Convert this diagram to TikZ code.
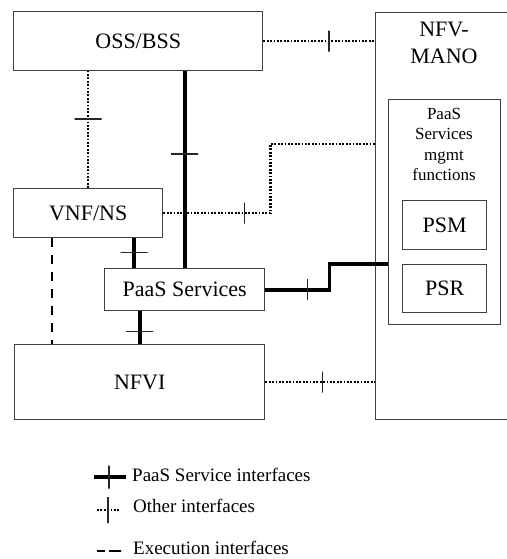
\documentclass[tikz,border=0pt]{standalone}
\usepackage{fontspec}
\setmainfont{Liberation Serif}
\usetikzlibrary{calc}
\begin{document}
\begin{tikzpicture}[x=1pt,y=-1pt,
  box/.style={draw=black!75, line width=1.4pt, rectangle, inner sep=0pt, anchor=north west,
    font=\fontsize{22}{26}\selectfont, align=center},
  thickif/.style={line width=3.6pt, black},
  dotif/.style={line width=2.2pt, black, dash pattern=on 1.8pt off 1.6pt},
  execif/.style={line width=2.8pt, black, dash pattern=on 9pt off 8pt},
  vtick/.style={draw=black!85, line width=1.5pt, solid, inner sep=0pt, minimum width=0pt, minimum height=21pt, rectangle},
  htick/.style={draw=black!85, line width=1.5pt, solid, inner sep=0pt, minimum height=0pt, minimum width=27pt, rectangle},
  legtext/.style={anchor=base west, inner sep=0pt, font=\fontsize{19}{22}\selectfont}
]
\useasboundingbox (0,0) rectangle (506,559);
\fill[white] (0,0) rectangle (506,559);

% boxes
\node[box, minimum width=249pt, minimum height=59pt] (oss) at (13,11) {OSS/BSS};
\node[box, minimum width=138pt, minimum height=407pt] (mano) at (375,12) {};
\node[font=\fontsize{22}{27}\selectfont, align=center, anchor=north, inner sep=0pt] (manot) at (444,22) {NFV-\\MANO};
\node[box, minimum width=112pt, minimum height=225pt] (mgmt) at (388,99) {};
\node[font=\fontsize{17}{20.5}\selectfont, align=center, anchor=north, inner sep=0pt] (mgmtt) at (444,108) {PaaS\\Services\\mgmt\\functions};
\node[box, minimum width=84pt, minimum height=49pt] (psm) at (402,200) {PSM};
\node[box, minimum width=84pt, minimum height=48pt] (psr) at (402,264) {PSR};
\node[box, minimum width=149pt, minimum height=49pt] (vnf) at (13,188) {VNF/NS};
\node[box, minimum width=160pt, minimum height=42pt] (paas) at (104,268) {PaaS Services};
\node[box, minimum width=250pt, minimum height=75pt] (nfvi) at (14,344) {NFVI};

% helper coordinates
\coordinate (vp) at ($(paas.north west)+(30,0)$);
\coordinate (ve) at ($(vnf.south west)+(39,0)$);
\coordinate (vm) at ($(vnf.east)+(107,0)$);
\coordinate (mm) at ($(mano.north west)+(0,132)$);
\coordinate (pm) at ($(paas.east)+(64,0)$);

% connectors
\draw[dotif] (oss.east) -- node[pos=0.59, vtick]{} (oss.east -| mano.west);
\draw[dotif] (vnf.north) -- node[pos=0.59, htick]{} (vnf.north |- oss.south);
\draw[thickif] (paas.north) -- node[pos=0.58, htick]{} (paas.north |- oss.south);
\draw[dotif] (vnf.east) -- node[pos=0.757, vtick]{} (vm) |- (mm);
\draw[thickif] (vp) -- node[pos=0.52, htick]{} (vp |- vnf.south);
\draw[execif] (ve) -- (ve |- nfvi.north);
\draw[thickif] (nfvi.north |- paas.south) -- node[pos=0.62, htick]{} (nfvi.north);
\draw[thickif] (paas.east) -- node[pos=0.66, vtick]{} (pm) |- (mgmt.west |- psr.north);
\draw[dotif] (nfvi.east) -- node[pos=0.52, vtick]{} (nfvi.east -| mano.west);

% legend
\coordinate (l1a) at (94,477); \coordinate (l1b) at (126,477);
\draw[thickif] (l1a) -- node[pos=0.47, vtick, minimum height=23pt]{} (l1b);
\node[legtext] (lt1) at (132,481) {PaaS Service interfaces};
\coordinate (l2a) at (97,510); \coordinate (l2b) at (120,510);
\draw[dotif] (l2a) -- node[pos=0.48, vtick, minimum height=26pt]{} (l2b);
\node[legtext] (lt2) at (133,512) {Other interfaces};
\coordinate (l3a) at (97,551); \coordinate (l3b) at (121,551);
\draw[line width=2.8pt, black, dash pattern=on 8pt off 4pt on 12pt off 0pt] (l3a) -- (l3b);
\node[legtext] (lt3) at (133,554) {Execution interfaces};
\end{tikzpicture}
\end{document}
